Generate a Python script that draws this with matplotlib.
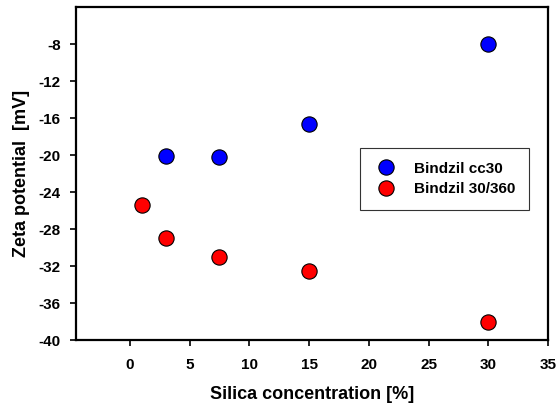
import matplotlib
matplotlib.use("Agg")
import matplotlib.pyplot as plt

plt.rcParams['font.family'] = ['Liberation Sans', 'DejaVu Sans']
plt.rcParams['font.weight'] = 'bold'
plt.rcParams['axes.unicode_minus'] = False

# zeta potential vs silica concentration for two Bindzil grades
cc30_x = [3, 7.5, 15, 30]
cc30_y = [-20.1, -20.2, -16.6, -8.0]

b360_x = [1, 3, 7.5, 15, 30]
b360_y = [-25.4, -29.0, -31.0, -32.5, -38.0]

xticks = [0, 5, 10, 15, 20, 25, 30, 35]
yticks = [-40, -36, -32, -28, -24, -20, -16, -12, -8]

fig = plt.figure(figsize=(5.58, 4.07), dpi=100)
ax = fig.add_axes([0.1362, 0.1646, 0.8459, 0.8182])

ax.plot(cc30_x, cc30_y, 'o', color='blue', markeredgecolor='black',
        markeredgewidth=0.8, markersize=11, label='Bindzil cc30', clip_on=False)
ax.plot(b360_x, b360_y, 'o', color='red', markeredgecolor='black',
        markeredgewidth=0.8, markersize=11, label='Bindzil 30/360', clip_on=False)

ax.set_xlim(-4.5, 35)
ax.set_ylim(-40, -4)
ax.set_xticks(xticks)
ax.set_yticks(yticks)
ax.tick_params(direction='out', length=4, width=1.2, labelsize=11)
ax.tick_params(axis='x', pad=9)
ax.tick_params(axis='y', pad=7)
for s in ax.spines.values():
    s.set_linewidth(1.6)

ax.set_xlabel('Silica concentration [%]', fontsize=13, fontweight='bold', labelpad=10)
ax.set_ylabel('Zeta potential  [mV]', fontsize=13, fontweight='bold', labelpad=6)

leg = ax.legend(loc='upper left', bbox_to_anchor=(0.602, 0.577), borderaxespad=0,
                fancybox=False, framealpha=1, edgecolor='#333333', fontsize=11,
                handletextpad=1.0, borderpad=0.9, labelspacing=0.45, handlelength=1.6)
leg.get_frame().set_linewidth(0.8)

fig.savefig('out.png', dpi=100)
